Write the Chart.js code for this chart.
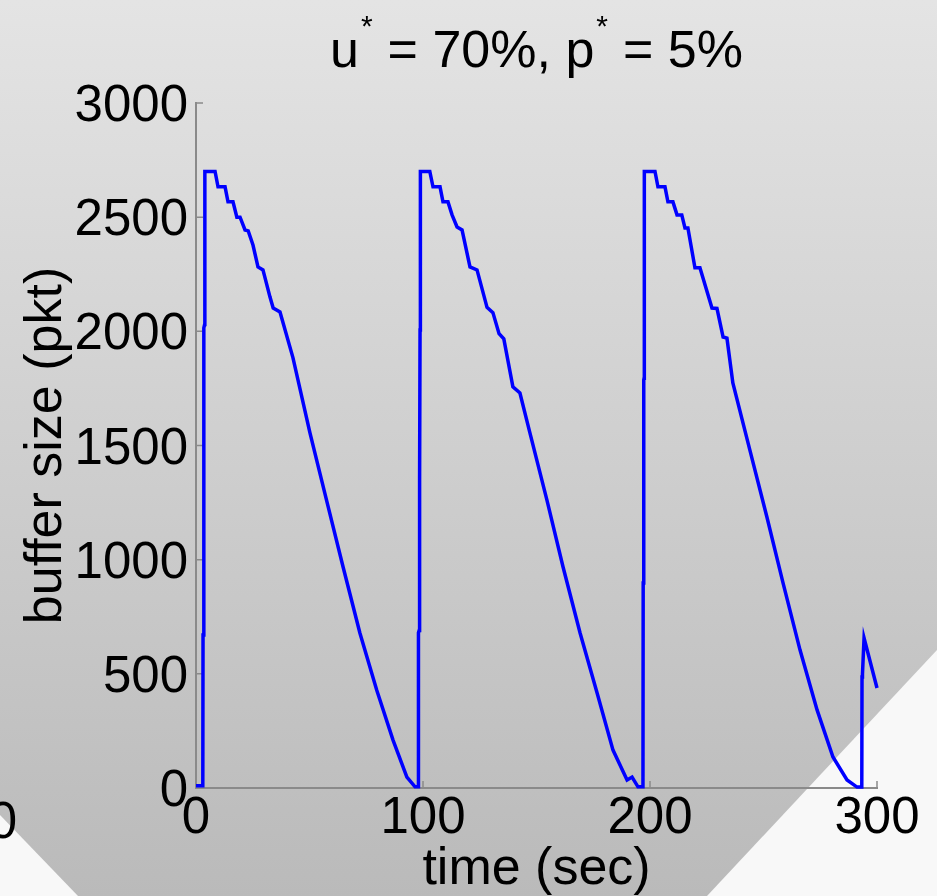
<!DOCTYPE html>
<html>
<head>
<meta charset="utf-8">
<script src="https://cdn.jsdelivr.net/npm/chart.js@4.4.1/dist/chart.umd.min.js"></script>
<style>
  html, body { margin: 0; padding: 0; }
  #stage {
    position: relative; width: 937px; height: 896px; overflow: hidden;
    background: linear-gradient(to bottom, #e4e4e4 0%, #bababa 100%);
    font-family: "Liberation Sans", Arial, Helvetica, sans-serif;
  }
  .corner { position: absolute; left: 0; top: 0; width: 937px; height: 896px; background: #f8f8f8; }
  #cornerLeft { clip-path: polygon(0 815px, 78px 896px, 0 896px); }
  #cornerRight { clip-path: polygon(937px 650px, 937px 896px, 707px 896px); }
  #plot { position: absolute; left: 0; top: 0; }
  #title {
    position: absolute; left: 196px; width: 681px; top: 19px;
    text-align: center; font-size: 52px; line-height: 60px; color: #000; white-space: nowrap;
  }
  #title sup { font-size: 30px; vertical-align: baseline; position: relative; top: -31px; margin: 0 15px 0 2px; }
  #stray {
    position: absolute; left: -80px; width: 97px; top: 796px;
    text-align: right; font-size: 51px; line-height: 50px; color: #000;
  }
</style>
</head>
<body>
<div id="stage">
  <div class="corner" id="cornerLeft"></div>
  <div class="corner" id="cornerRight"></div>
  <div id="stray">300</div>
  <canvas id="plot" width="937" height="896"></canvas>
  <div id="title">u<sup>*</sup>= 70%, p<sup>*</sup>= 5%</div>
</div>
<script>
// buffer occupancy, one array pair per cycle
const cycleOneTime = [0, 3.0, 3.1, 3.4, 3.5, 3.8, 3.9, 8.4, 9.7, 12.8, 14.1, 16.3, 18.0, 19.4, 21.6, 23.0,
  25.1, 27.3, 29.5, 32.6, 34.0, 37.0, 42.7, 50.2, 57.5, 64.8, 72.2, 79.6, 86.8, 92.9, 96.5];
const cycleOneBuffer = [10, 10, 670, 680, 2015, 2030, 2700, 2700, 2633, 2633, 2567, 2567, 2500, 2500, 2444, 2440,
  2378, 2282, 2269, 2150, 2102, 2085, 1885, 1555, 1261, 968, 679, 429, 210, 48, 5];

const cycleTwoTime = [97.8, 98.0, 98.3, 98.4, 98.6, 98.7, 98.8, 98.9, 103.0, 104.4, 107.5, 108.8, 111.0, 112.8, 115.0, 117.2,
  120.7, 123.8, 128.2, 130.8, 133.5, 135.6, 139.6, 142.7, 147.1, 154.6, 161.7, 169.2, 176.7, 183.7, 189.9, 192.1, 194.7];
const cycleTwoBuffer = [5, 680, 690, 1340, 1350, 2006, 2010, 2700, 2700, 2633, 2633, 2567, 2567, 2510, 2457, 2444,
  2282, 2269, 2105, 2082, 1990, 1967, 1757, 1730, 1555, 1261, 968, 679, 416, 166, 35, 48, 5];

const cycleThreeTime = [196.9, 197.0, 197.2, 197.3, 197.4, 197.5, 202.2, 203.5, 206.6, 207.9, 210.1, 211.9, 214.0, 215.4, 216.7,
  219.8, 222.0, 227.3, 229.5, 232.2, 233.9, 236.5, 244.0, 251.5, 258.6, 266.1, 273.6, 280.6, 286.8, 291.2];
const cycleThreeBuffer = [5, 898, 905, 1787, 1795, 2700, 2700, 2633, 2633, 2567, 2567, 2510, 2510, 2453, 2453,
  2278, 2278, 2102, 2100, 1975, 1970, 1774, 1480, 1187, 898, 604, 342, 136, 35, 4];

const tailTime = [293.3, 293.4, 293.6, 294.3, 300];
const tailBuffer = [4, 486, 500, 657, 438];

const xTickValues = [0, 100, 200, 300];
const yTickValues = [0, 500, 1000, 1500, 2000, 2500, 3000];

const timeSec = [].concat(cycleOneTime, cycleTwoTime, cycleThreeTime, tailTime);
const bufferPkt = [].concat(cycleOneBuffer, cycleTwoBuffer, cycleThreeBuffer, tailBuffer);
const points = timeSec.map((t, i) => ({ x: t, y: bufferPkt[i] }));

const family = '"Liberation Sans", Arial, Helvetica, sans-serif';
const axisGray = "#8a8a8a";

// matlab style ticks point into the plot
const innerTicks = {
  id: "innerTicks",
  beforeDatasetsDraw(chart) {
    const { ctx, chartArea, scales } = chart;
    ctx.save();
    ctx.strokeStyle = axisGray;
    ctx.lineWidth = 1.5;
    ctx.beginPath();
    xTickValues.forEach((v) => {
      const px = scales.x.getPixelForValue(v);
      ctx.moveTo(px, chartArea.bottom);
      ctx.lineTo(px, chartArea.bottom - 7);
    });
    yTickValues.forEach((v) => {
      const py = scales.y.getPixelForValue(v);
      ctx.moveTo(chartArea.left, py);
      ctx.lineTo(chartArea.left + 7, py);
    });
    ctx.stroke();
    ctx.restore();
  },
};

new Chart(document.getElementById("plot"), {
  type: "line",
  data: {
    datasets: [
      {
        data: points,
        borderColor: "#0000ff",
        borderWidth: 3.5,
        pointRadius: 0,
        tension: 0,
        fill: false,
        clip: false,
      },
    ],
  },
  options: {
    responsive: false,
    animation: false,
    events: [],
    layout: { padding: { top: 103, right: 60, bottom: 0, left: 0 } },
    plugins: {
      legend: { display: false },
      tooltip: { enabled: false },
    },
    scales: {
      x: {
        type: "linear",
        min: 0,
        max: 300,
        afterBuildTicks: (s) => { s.ticks = xTickValues.map((v) => ({ value: v })); },
        afterFit: (s) => { s.height = 108; },
        grid: { display: false, drawTicks: false },
        border: { display: true, color: axisGray, width: 2 },
        ticks: {
          font: { size: 51, family },
          color: "#000",
          padding: 0,
          maxRotation: 0,
          autoSkip: false,
          callback: (v) => String(v),
        },
        title: {
          display: true,
          text: "time (sec)",
          font: { size: 52, family },
          color: "#000",
          padding: { top: 0, bottom: -5 },
        },
      },
      y: {
        min: 0,
        max: 3000,
        afterBuildTicks: (s) => { s.ticks = yTickValues.map((v) => ({ value: v })); },
        afterFit: (s) => { s.width = 196; },
        grid: { display: false, drawTicks: false },
        border: { display: true, color: axisGray, width: 2 },
        ticks: {
          font: { size: 51, family },
          color: "#000",
          padding: 8,
          labelOffset: 4,
          autoSkip: false,
          callback: (v) => String(v),
        },
        title: {
          display: true,
          text: "buffer size (pkt)",
          font: { size: 52, family },
          color: "#000",
          padding: { top: 15, bottom: 0 },
        },
      },
    },
  },
  plugins: [innerTicks],
});
</script>
</body>
</html>
